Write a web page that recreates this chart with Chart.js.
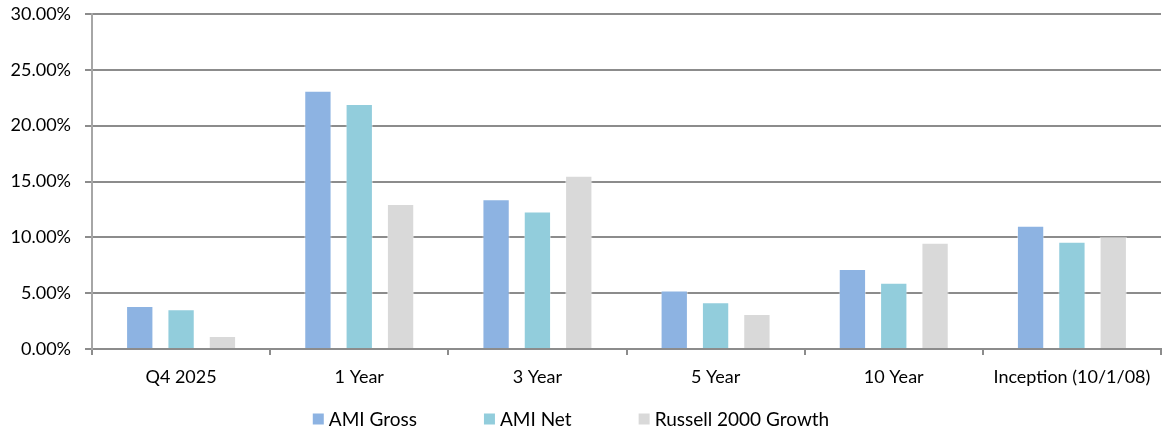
<!DOCTYPE html>
<html>
<head>
<meta charset="utf-8">
<script src="https://cdn.jsdelivr.net/npm/chart.js@4/dist/chart.umd.min.js"></script>
<style>
  html, body { margin: 0; padding: 0; background: #fff; }
  #wrap { width: 1162px; height: 429px; }
</style>
</head>
<body>
<div id="wrap"><canvas id="c" width="1162" height="429"></canvas></div>
<script>
// Annualized returns (%) by period
const categories = ['Q4 2025', '1 Year', '3 Year', '5 Year', '10 Year', 'Inception (10/1/08)'];
const amiGross   = [3.85, 23.13, 13.40, 5.25, 7.16, 11.04];
const amiNet     = [3.55, 21.93, 12.32, 4.18, 5.94, 9.61];
const russell2000Growth = [1.16, 12.98, 15.52, 3.13, 9.52, 10.06];
const yTicks = [0, 5, 10, 15, 20, 25, 30];

const FONT = 'Lato, "Open Sans", sans-serif';
const FONT_SIZE = 18;

// Legend drawn below the axis labels: small square swatch, then the series name
const bottomLegend = {
  id: 'bottomLegend',
  afterDraw(chart) {
    const ctx = chart.ctx;
    ctx.save();
    ctx.font = '19px ' + FONT;
    ctx.textBaseline = 'middle';
    const box = 11, gap = 5, spacing = 67, y = 419;
    const items = chart.data.datasets.map(d => ({
      text: d.label, color: d.backgroundColor, w: ctx.measureText(d.label).width
    }));
    const total = items.reduce((s, it) => s + box + gap + it.w, 0) + spacing * (items.length - 1);
    let x = chart.width / 2 - 10 - total / 2;
    items.forEach(it => {
      ctx.fillStyle = it.color;
      ctx.fillRect(x, y - box / 2, box, box);
      ctx.fillStyle = '#000';
      ctx.fillText(it.text, x + box + gap, y + 1);
      x += box + gap + it.w + spacing;
    });
    ctx.restore();
  }
};

const bar = (label, data, color) => ({
  label, data,
  backgroundColor: color,
  borderColor: 'rgba(255,255,255,0.45)',
  borderWidth: 1,
  categoryPercentage: 0.696,
  barPercentage: 0.661
});

new Chart(document.getElementById('c'), {
  type: 'bar',
  data: {
    labels: categories,
    datasets: [
      bar('AMI Gross', amiGross, '#8db3e2'),
      bar('AMI Net', amiNet, '#92cddc'),
      bar('Russell 2000 Growth', russell2000Growth, '#d9d9d9')
    ]
  },
  options: {
    responsive: false,
    animation: false,
    events: [],
    layout: { padding: { top: 14, right: 1, bottom: 0, left: 0 } },
    plugins: {
      legend: { display: false },
      tooltip: { enabled: false }
    },
    scales: {
      x: {
        afterFit(scale) { scale.height = 80; },
        grid: {
          drawOnChartArea: false,
          offset: true,
          color: '#8c8c8c',
          lineWidth: 2,
          tickLength: 6
        },
        border: { display: true, color: '#8c8c8c', width: 2 },
        ticks: {
          color: '#000',
          padding: 11,
          maxRotation: 0,
          font: { family: FONT, size: FONT_SIZE }
        }
      },
      y: {
        min: yTicks[0],
        max: yTicks[yTicks.length - 1],
        afterFit(scale) { scale.width = 92; scale.paddingTop = 0; scale.paddingBottom = 0; },
        afterBuildTicks(scale) { scale.ticks = yTicks.map(v => ({ value: v })); },
        grid: {
          color: '#8c8c8c',
          lineWidth: 2,
          tickLength: 7
        },
        border: { display: true, color: '#a6a6a6', width: 2 },
        ticks: {
          color: '#000',
          padding: 14,
          font: { family: FONT, size: FONT_SIZE },
          callback: v => Number(v).toFixed(2) + '%'
        }
      }
    }
  },
  plugins: [bottomLegend]
});
</script>
</body>
</html>
